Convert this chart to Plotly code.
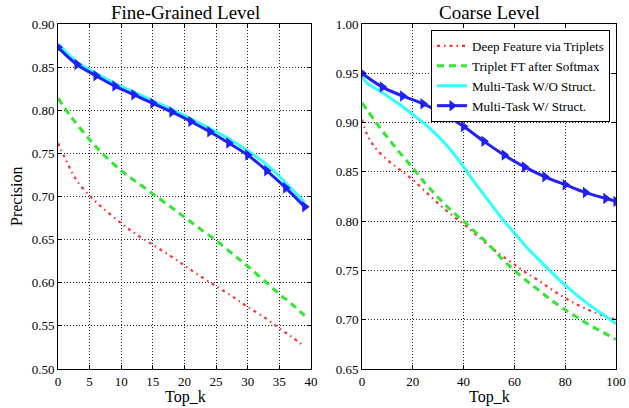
import plotly.graph_objects as go

# ---------------- data ----------------
series_names = ["Deep Feature via Triplets", "Triplet FT after Softmax",
                "Multi-Task W/O Struct.", "Multi-Task W/ Struct."]

# Fine-grained level (left)
fine_k = [0, 1, 2, 3, 5, 7, 10, 12, 15, 18, 20, 22, 25, 28, 30, 33, 35, 37, 39]
fine_red = [0.762, 0.746, 0.731, 0.718, 0.701, 0.687, 0.669, 0.658, 0.644, 0.630,
            0.620, 0.610, 0.596, 0.582, 0.572, 0.558, 0.547, 0.537, 0.526]
fine_green_k = [0, 2, 5, 7, 10, 12, 15, 18, 20, 22, 25, 28, 30, 33, 35, 37, 39]
fine_green = [0.814, 0.793, 0.766, 0.750, 0.730, 0.719, 0.703, 0.687, 0.676, 0.665,
              0.649, 0.631, 0.619, 0.600, 0.587, 0.575, 0.562]
fine_cyan_k = [0, 3, 6, 9, 12, 15, 18, 21, 24, 27, 30, 33, 36, 39]
fine_cyan = [0.877, 0.856, 0.843, 0.831, 0.821, 0.811, 0.801, 0.790, 0.779, 0.767,
             0.753, 0.737, 0.716, 0.693]
fine_blue_k = [0, 3, 6, 9, 12, 15, 18, 21, 24, 27, 30, 33, 36, 39]
fine_blue = [0.873, 0.853, 0.840, 0.828, 0.818, 0.808, 0.798, 0.787, 0.775, 0.762,
             0.748, 0.730, 0.710, 0.688]

# Coarse level (right)
coarse_red_k = [0, 2, 5, 10, 15, 20, 25, 30, 35, 40, 45, 50, 55, 60, 65, 70, 75, 80, 85, 90, 95, 100]
coarse_red = [0.903, 0.888, 0.875, 0.862, 0.852, 0.842, 0.830, 0.818, 0.807, 0.797,
              0.786, 0.775, 0.765, 0.756, 0.747, 0.739, 0.730, 0.722, 0.715, 0.709,
              0.704, 0.700]
coarse_green_k = [0, 5, 10, 15, 20, 25, 30, 35, 40, 45, 50, 55, 60, 65, 70, 75, 80, 85, 90, 95, 100]
coarse_green = [0.920, 0.902, 0.885, 0.869, 0.854, 0.838, 0.824, 0.811, 0.800, 0.788,
                0.776, 0.762, 0.750, 0.739, 0.729, 0.719, 0.710, 0.702, 0.694, 0.687,
                0.680]
coarse_cyan_k = [0, 2, 5, 10, 15, 20, 25, 30, 35, 40, 45, 50, 55, 60, 65, 70, 75, 80, 85, 90, 95, 100]
coarse_cyan = [0.946, 0.940, 0.935, 0.927, 0.918, 0.908, 0.898, 0.886, 0.872, 0.855,
               0.837, 0.820, 0.803, 0.788, 0.773, 0.760, 0.747, 0.735, 0.724, 0.714,
               0.705, 0.696]
coarse_blue_k = [0, 8, 16, 24, 32, 40, 48, 56, 64, 72, 80, 88, 96, 100]
coarse_blue = [0.950, 0.936, 0.927, 0.919, 0.909, 0.896, 0.881, 0.867, 0.855, 0.845,
               0.837, 0.829, 0.823, 0.820]

fine_xticks = [0, 5, 10, 15, 20, 25, 30, 35, 40]
fine_yticks = [0.50, 0.55, 0.60, 0.65, 0.70, 0.75, 0.80, 0.85, 0.90]
coarse_xticks = [0, 20, 40, 60, 80, 100]
coarse_yticks = [0.65, 0.70, 0.75, 0.80, 0.85, 0.90, 0.95, 1.00]

# ---------------- style ----------------
FONT = "Liberation Serif"
RED = "#ff3030"
GREEN = "#30e830"
CYAN = "#30ffff"
BLUE = "#2020ff"

W, H = 629, 408
fig = go.Figure()


def add_panel(xa, ya, red, green, cyan, blue, legend):
    fig.add_trace(go.Scatter(x=red[0], y=red[1], mode="lines", name=series_names[0],
                             line=dict(color=RED, width=2.2, dash="3px,4px,1.5px,4px", shape="spline"),
                             xaxis=xa, yaxis=ya, showlegend=legend))
    fig.add_trace(go.Scatter(x=green[0], y=green[1], mode="lines", name=series_names[1],
                             line=dict(color=GREEN, width=3, dash="7px,5px", shape="spline"),
                             xaxis=xa, yaxis=ya, showlegend=legend))
    fig.add_trace(go.Scatter(x=cyan[0], y=cyan[1], mode="lines", name=series_names[2],
                             line=dict(color=CYAN, width=3, shape="spline"),
                             xaxis=xa, yaxis=ya, showlegend=legend))
    fig.add_trace(go.Scatter(x=blue[0], y=blue[1], mode="lines+markers", name=series_names[3],
                             line=dict(color=BLUE, width=3, shape="spline"),
                             marker=dict(symbol="triangle-right", size=10, color=BLUE),
                             xaxis=xa, yaxis=ya, showlegend=legend))


add_panel("x", "y", (fine_k, fine_red), (fine_green_k, fine_green),
          (fine_cyan_k, fine_cyan), (fine_blue_k, fine_blue), False)
add_panel("x2", "y2", (coarse_red_k, coarse_red), (coarse_green_k, coarse_green),
          (coarse_cyan_k, coarse_cyan), (coarse_blue_k, coarse_blue), True)

ydom = [1 - 369 / H, 1 - 24 / H]
axis_common = dict(showgrid=True, gridcolor="#222222", griddash="1px,2px", gridwidth=1,
                   showline=True, linecolor="black", linewidth=1, mirror="ticks",
                   ticks="inside", ticklen=4, tickcolor="black", zeroline=False,
                   tickfont=dict(family=FONT, size=13, color="black"), automargin=False)

fig.update_layout(
    width=W, height=H,
    margin=dict(l=0, r=0, t=0, b=0),
    paper_bgcolor="white", plot_bgcolor="white",
    font=dict(family=FONT, color="black"),
    xaxis=dict(domain=[58 / W, 311 / W], range=[0, 40], tickvals=fine_xticks,
               ticktext=[str(v) for v in fine_xticks], anchor="y", **axis_common),
    yaxis=dict(domain=ydom, range=[0.50, 0.90], tickvals=fine_yticks,
               ticktext=[f"{v:.2f}" for v in fine_yticks], anchor="x", **axis_common),
    xaxis2=dict(domain=[362 / W, 616 / W], range=[0, 100], tickvals=coarse_xticks,
                ticktext=[str(v) for v in coarse_xticks], anchor="y2", **axis_common),
    yaxis2=dict(domain=ydom, range=[0.65, 1.00], tickvals=coarse_yticks,
                ticktext=[f"{v:.2f}" for v in coarse_yticks], anchor="x2", **axis_common),
    legend=dict(x=431 / W, y=1 - 30 / H, xanchor="left", yanchor="top",
                bgcolor="white", bordercolor="black", borderwidth=1,
                font=dict(family=FONT, size=13, color="black"),
                tracegroupgap=0, itemwidth=30),
    annotations=[
        dict(text="Fine-Grained Level", x=185 / W, y=1 - 12 / H, xref="paper", yref="paper",
             showarrow=False, font=dict(family=FONT, size=19), xanchor="center", yanchor="middle"),
        dict(text="Coarse Level", x=489 / W, y=1 - 12 / H, xref="paper", yref="paper",
             showarrow=False, font=dict(family=FONT, size=19), xanchor="center", yanchor="middle"),
        dict(text="Top_k", x=185 / W, y=1 - 397 / H, xref="paper", yref="paper",
             showarrow=False, font=dict(family=FONT, size=16), xanchor="center", yanchor="middle"),
        dict(text="Top_k", x=489 / W, y=1 - 397 / H, xref="paper", yref="paper",
             showarrow=False, font=dict(family=FONT, size=16), xanchor="center", yanchor="middle"),
        dict(text="Precision", x=16 / W, y=1 - 196 / H, xref="paper", yref="paper",
             showarrow=False, font=dict(family=FONT, size=16), textangle=-90,
             xanchor="center", yanchor="middle"),
    ],
)

fig.write_html("out.html", config={"displayModeBar": False})
# remove the browser's default 8px body margin so the figure sits at the page origin
with open("out.html", encoding="utf-8") as f:
    html = f.read()
html = html.replace("<head>", "<head><style>html,body{margin:0;padding:0;overflow:hidden;}</style>", 1)
with open("out.html", "w", encoding="utf-8") as f:
    f.write(html)
